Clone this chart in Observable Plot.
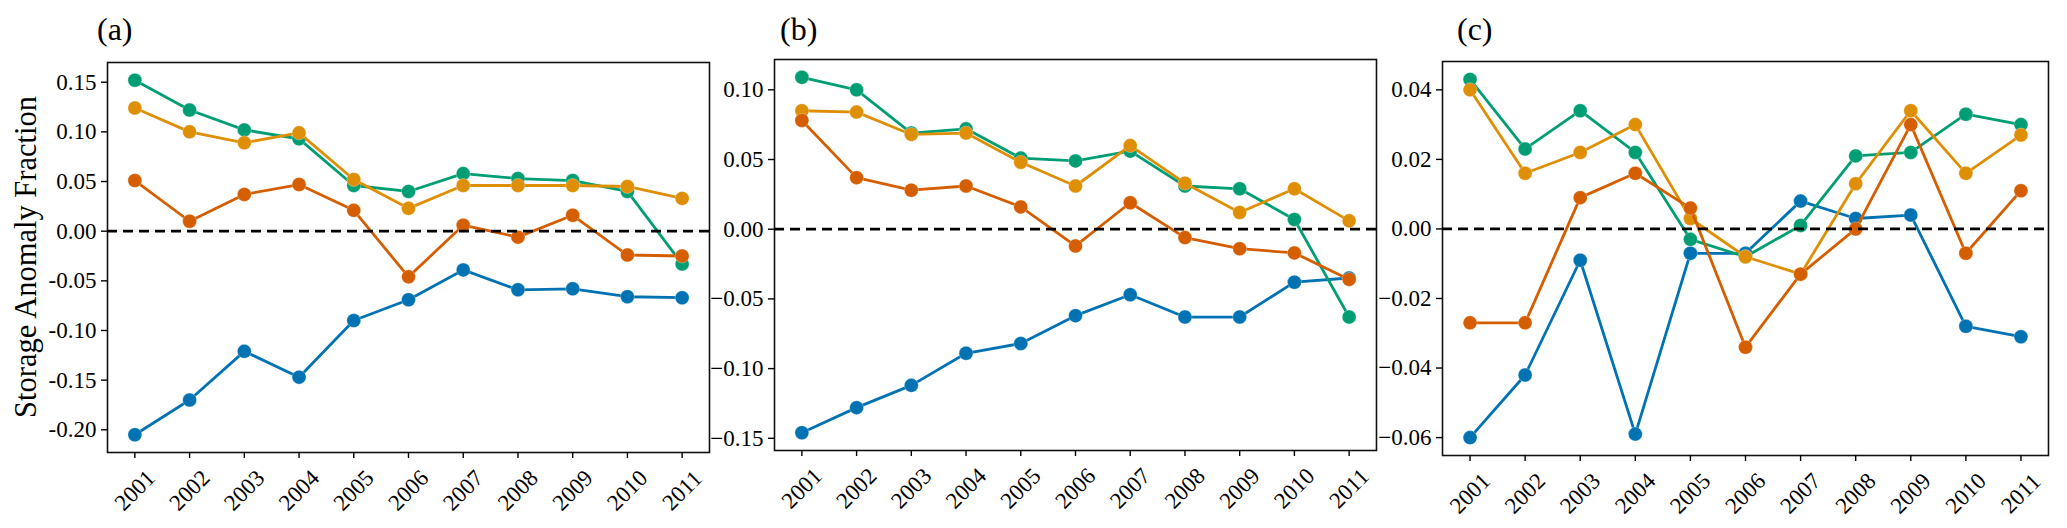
<!DOCTYPE html>
<html>
<head>
<meta charset="utf-8">
<script src="https://cdn.jsdelivr.net/npm/d3@7"></script>
<script src="https://cdn.jsdelivr.net/npm/@observablehq/plot@0.6"></script>
<style>
  body { margin: 0; background: #fff; }
  #fig { position: relative; width: 2067px; height: 528px; overflow: hidden;
         font-family: "Liberation Serif", "Times New Roman", serif; color: #000; }
  .panel { position: absolute; top: 0; }
  .tag { position: absolute; top: 13px; font-size: 32px; line-height: 1; white-space: nowrap; }
  .ylab { position: absolute; width: 420px; height: 30px; font-size: 30.5px; line-height: 30px;
          text-align: center; white-space: nowrap; transform: rotate(-90deg); }
</style>
</head>
<body>
<div id="fig"></div>
<script>
// ---- data ----
const years = [2001, 2002, 2003, 2004, 2005, 2006, 2007, 2008, 2009, 2010, 2011];

// panel (a)
const aBlue   = [-0.205, -0.170, -0.121, -0.147, -0.090, -0.069, -0.039, -0.059, -0.058, -0.066, -0.067];
const aGreen  = [ 0.152,  0.122,  0.102,  0.093,  0.046,  0.040,  0.058,  0.053,  0.051,  0.040, -0.033];
const aOrange = [ 0.124,  0.100,  0.089,  0.099,  0.052,  0.023,  0.046,  0.046,  0.046,  0.045,  0.033];
const aRed    = [ 0.051,  0.010,  0.037,  0.047,  0.021, -0.046,  0.006, -0.006,  0.016, -0.024, -0.025];

// panel (b)
const bBlue   = [-0.146, -0.128, -0.112, -0.089, -0.082, -0.062, -0.047, -0.063, -0.063, -0.038, -0.035];
const bGreen  = [ 0.109,  0.100,  0.069,  0.072,  0.051,  0.049,  0.056,  0.031,  0.029,  0.007, -0.063];
const bOrange = [ 0.085,  0.084,  0.068,  0.069,  0.048,  0.031,  0.060,  0.033,  0.012,  0.029,  0.006];
const bRed    = [ 0.078,  0.037,  0.028,  0.031,  0.016, -0.012,  0.019, -0.006, -0.014, -0.017, -0.036];

// panel (c)
const cBlue   = [-0.060, -0.042, -0.009, -0.059, -0.007, -0.007,  0.008,  0.003,  0.004, -0.028, -0.031];
const cGreen  = [ 0.043,  0.023,  0.034,  0.022, -0.003, -0.008,  0.001,  0.021,  0.022,  0.033,  0.030];
const cOrange = [ 0.040,  0.016,  0.022,  0.030,  0.003, -0.008, -0.013,  0.013,  0.034,  0.016,  0.027];
const cRed    = [-0.027, -0.027,  0.009,  0.016,  0.006, -0.034, -0.013,  0.000,  0.030, -0.007,  0.011];

// y tick values
const aTicks = [-0.20, -0.15, -0.10, -0.05, 0, 0.05, 0.10, 0.15];
const bTicks = [-0.15, -0.10, -0.05, 0, 0.05, 0.10];
const cTicks = [-0.06, -0.04, -0.02, 0, 0.02, 0.04];

const panelTags = ["(a)", "(b)", "(c)"];
const yLabel = "Storage Anomaly Fraction";

const colors = { blue: "#0173B2", green: "#029E73", orange: "#DE8F05", red: "#D55E00" };

// ---- drawing ----
const fig = document.getElementById("fig");

function paddedDomain(arrays) {
  const all = arrays.flat();
  const lo = d3.min(all), hi = d3.max(all);
  const pad = (hi - lo) * 0.05;
  return [lo - pad, hi + pad];
}

function panel({ series, ticks, tickFormat, left, width, mL, mR, mT, mB }) {
  const marks = [
    Plot.frame({ stroke: "#111", strokeWidth: 1.6 }),
    Plot.axisY({ ticks, tickFormat, tickSize: 6, tickPadding: 5, fontSize: 23, label: null, strokeWidth: 1.4 }),
    Plot.axisX({ ticks: years, tickFormat: () => "", tickSize: 6, label: null, strokeWidth: 1.4 }),
    Plot.text(years, { x: d => d, text: d => String(d), frameAnchor: "bottom", dy: 38,
                       rotate: -45, textAnchor: "middle", lineAnchor: "middle", fontSize: 23 })
  ];
  for (const [key, vals] of series) {
    marks.push(Plot.line(vals, { x: years, y: d => d, stroke: colors[key], strokeWidth: 2.8 }));
    marks.push(Plot.dot(vals, { x: years, y: d => d, r: 7, fill: colors[key],
                                stroke: "white", strokeWidth: 0.6, strokeOpacity: 0.5 }));
  }
  marks.push(Plot.ruleY([0], { stroke: "#000", strokeWidth: 2.8, strokeDasharray: "10,6" }));

  const svg = Plot.plot({
    width, height: 528,
    marginLeft: mL, marginRight: mR, marginTop: mT, marginBottom: mB,
    style: { background: "transparent", fontFamily: "Liberation Serif, Times New Roman, serif",
             fontSize: "23px", color: "#000", overflow: "visible" },
    x: { type: "linear", domain: [years[0] - 0.5, years[years.length - 1] + 0.5] },
    y: { domain: paddedDomain(series.map(s => s[1])) },
    marks
  });
  const wrap = document.createElement("div");
  wrap.className = "panel";
  wrap.style.left = left + "px";
  wrap.style.width = width + "px";
  wrap.appendChild(svg);
  fig.appendChild(wrap);
}

panel({
  series: [["blue", aBlue], ["green", aGreen], ["orange", aOrange], ["red", aRed]],
  ticks: aTicks, tickFormat: d => d.toFixed(2),
  left: 0, width: 720, mL: 107, mR: 11, mT: 62, mB: 76
});
panel({
  series: [["blue", bBlue], ["green", bGreen], ["orange", bOrange], ["red", bRed]],
  ticks: bTicks, tickFormat: d3.format(".2f"),
  left: 720, width: 670, mL: 54, mR: 14, mT: 59, mB: 78
});
panel({
  series: [["blue", cBlue], ["green", cGreen], ["orange", cOrange], ["red", cRed]],
  ticks: cTicks, tickFormat: d3.format(".2f"),
  left: 1390, width: 677, mL: 52, mR: 19, mT: 61, mB: 73
});

// panel tags
const tagLeft = [97, 780, 1457];
panelTags.forEach((t, i) => {
  const d = document.createElement("div");
  d.className = "tag";
  d.style.left = tagLeft[i] + "px";
  d.textContent = t;
  fig.appendChild(d);
});

// y-axis title
const yl = document.createElement("div");
yl.className = "ylab";
yl.style.left = (26 - 210) + "px";
yl.style.top = (257 - 15) + "px";
yl.textContent = yLabel;
fig.appendChild(yl);
</script>
</body>
</html>
